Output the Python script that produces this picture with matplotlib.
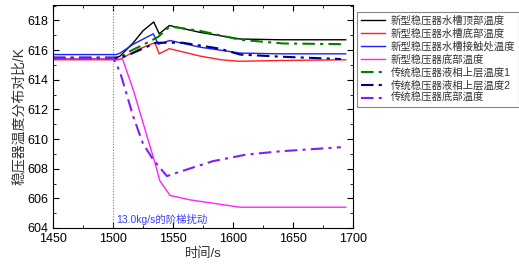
import matplotlib
matplotlib.use("Agg")
import matplotlib.pyplot as plt
from matplotlib.ticker import MultipleLocator

plt.rcParams['font.family'] = ['Liberation Sans', 'Noto Sans CJK SC', 'DejaVu Sans']
plt.rcParams['axes.unicode_minus'] = False

# series (time in s, temperature in K)
t_black = [1450, 1500, 1506, 1517, 1525, 1534, 1538.6, 1547, 1572.5, 1606, 1640, 1694]
T_black = [615.4, 615.4, 615.6, 616.5, 617.3, 617.9, 617.1, 617.66, 617.2, 616.75, 616.7, 616.7]

t_red = [1450, 1505, 1522.5, 1535, 1538.5, 1547, 1572.5, 1590, 1605, 1640, 1694]
T_red = [615.35, 615.35, 616.1, 616.5, 615.75, 616.1, 615.6, 615.35, 615.25, 615.3, 615.35]

t_blue = [1450, 1503, 1506, 1517, 1533.6, 1537.7, 1547.5, 1572.5, 1606, 1640, 1694]
T_blue = [615.7, 615.7, 615.8, 616.4, 617.1, 616.4, 616.65, 616.2, 615.8, 615.75, 615.75]

t_mag = [1450, 1508, 1517, 1535, 1539, 1547.5, 1564, 1585, 1606, 1650, 1694]
T_mag = [615.4, 615.4, 613.3, 608.4, 607.2, 606.2, 605.9, 605.65, 605.4, 605.4, 605.4]

t_green = [1450, 1505, 1511, 1531, 1537.7, 1547.5, 1572.5, 1606, 1642, 1694]
T_green = [615.45, 615.45, 615.8, 616.6, 616.9, 617.6, 617.3, 616.7, 616.45, 616.4]

t_navy = [1450, 1505, 1511, 1536, 1558, 1589, 1606, 1642, 1690]
T_navy = [615.5, 615.5, 615.6, 616.5, 616.5, 616.1, 615.7, 615.55, 615.4]

t_purple = [1450, 1500.5, 1506, 1517, 1525, 1533.6, 1545, 1556, 1583, 1611, 1639, 1690]
T_purple = [615.45, 615.45, 614.5, 611.5, 609.7, 608.6, 607.5, 607.8, 608.5, 608.95, 609.17, 609.45]

labels = ['新型稳压器水槽顶部温度', '新型稳压器水槽底部温度', '新型稳压器水槽接触处温度',
          '新型稳压器底部温度', '传统稳压器液相上层温度1', '传统稳压器液相上层温度2',
          '传统稳压器底部温度']

fig = plt.figure(figsize=(5.19, 2.74), dpi=100)
ax = fig.add_axes([0.102, 0.168, 0.578, 0.814])

dd = (6, 2.5, 1.5, 2.5)
ax.plot(t_black, T_black, color='black', lw=1.0, label=labels[0])
ax.plot(t_red, T_red, color='#ff2020', lw=1.0, label=labels[1])
ax.plot(t_blue, T_blue, color='#1f1fff', lw=1.0, label=labels[2])
ax.plot(t_mag, T_mag, color='#ff22ff', lw=1.0, label=labels[3])
ax.plot(t_green, T_green, color='#008000', lw=1.5, dashes=dd, label=labels[4])
ax.plot(t_navy, T_navy, color='#00007f', lw=1.5, dashes=dd, label=labels[5])
ax.plot(t_purple, T_purple, color='#7f1fff', lw=1.5, dashes=dd, label=labels[6])

ax.axvline(1500, color='gray', lw=0.8, ls=(0, (1, 1.5)))
ax.text(1503, 604.35, '13.0kg/s的阶梯扰动', color='#3a3aff', fontsize=7.5)

ax.set_xlim(1450, 1700)
ax.set_ylim(604, 619.05)
ax.xaxis.set_major_locator(MultipleLocator(50))
ax.xaxis.set_minor_locator(MultipleLocator(25))
ax.yaxis.set_major_locator(MultipleLocator(2))
ax.yaxis.set_minor_locator(MultipleLocator(1))
ax.tick_params(which='both', direction='in', top=True, right=True, labelsize=9)
ax.tick_params(which='major', length=4)
ax.tick_params(which='minor', length=2)
ax.set_xlabel('时间/s', fontsize=9.5, color='#333333', labelpad=2)
ax.set_ylabel('稳压器温度分布对比/K', fontsize=10, color='#333333', labelpad=1)

leg = fig.legend(loc='upper left', bbox_to_anchor=(0.688, 0.958), fontsize=7.5,
                 handlelength=2.3, labelspacing=0.25, borderpad=0.4,
                 handletextpad=0.5, borderaxespad=0, fancybox=False, framealpha=1)
leg.get_frame().set_edgecolor('#888888')
leg.get_frame().set_linewidth(0.8)
for txt in leg.get_texts():
    txt.set_color('#333333')

fig.savefig('out.png', dpi=100)
